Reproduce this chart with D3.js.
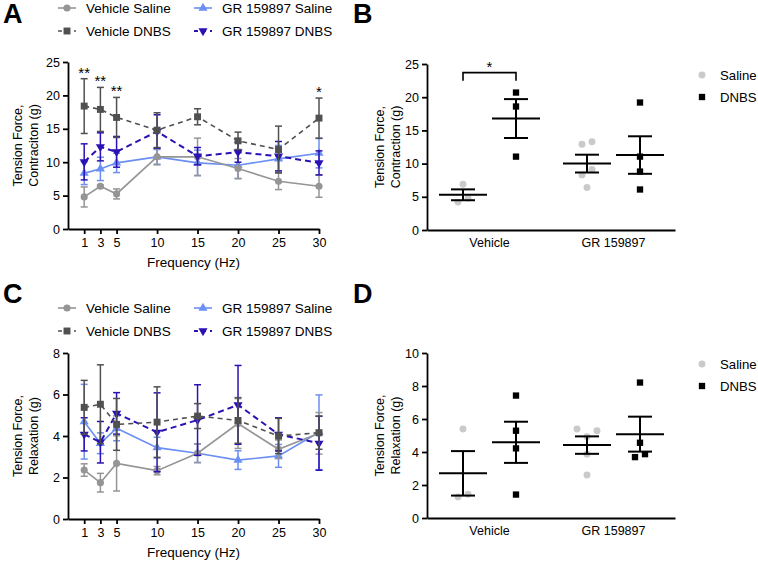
<!DOCTYPE html>
<html>
<head>
<meta charset="utf-8">
<script src="https://cdn.jsdelivr.net/npm/d3@7"></script>
<style>
    body { margin: 0; background: #fff; }
    svg { font-family: Arial, "Liberation Sans", sans-serif; }
    .axis path, .axis line { stroke: #000; stroke-width: 1.8px; }
    .axis text { font-size: 12.5px; fill: #000; }
</style>
</head>
<body>
<svg id="chart" width="758" height="561"></svg>
<script>
// stimulation frequencies (Hz)
var freqs = [1, 3, 5, 10, 15, 20, 25, 30];
var seriesNames = ["Vehicle Saline", "Vehicle DNBS", "GR 159897 Saline", "GR 159897 DNBS"];

// panel A - contraction, mean and SEM per frequency
var contrVehSal = [4.8, 6.4, 5.25, 10.8, 10.8, 9.05, 7.15, 6.4];
var contrVehSalErr = [1.5, 0.2, 0.75, 1.2, 2.8, 1.5, 1.25, 1.65];
var contrVehDnbs = [18.4, 17.9, 16.7, 14.8, 16.8, 13.2, 11.9, 16.6];
var contrVehDnbsErr = [4.1, 3.3, 3.0, 2.6, 1.2, 1.3, 3.5, 3.0];
var contrGrSal = [8.35, 9.0, 9.9, 10.8, 9.9, 9.55, 10.5, 11.35];
var contrGrSalErr = [1.7, 1.75, 1.45, 1.1, 1.9, 2.0, 2.0, 2.2];
var contrGrDnbs = [10.05, 12.3, 11.55, 14.6, 10.9, 11.5, 10.9, 9.9];
var contrGrDnbsErr = [2.7, 2.1, 2.3, 2.5, 1.3, 1.5, 2.2, 1.8];
var contrStars = [{f: 1, t: "**"}, {f: 3, t: "**"}, {f: 5, t: "**"}, {f: 30, t: "*"}];
var contrTicks = [0, 5, 10, 15, 20, 25];

// panel C - relaxation, mean and SEM per frequency
var relaxVehSal = [2.36, 1.75, 2.68, 2.33, 3.17, 4.6, 3.36, 4.13];
var relaxVehSalErr = [0.3, 0.45, 1.33, 0.2, 0.45, 1.2, 0.45, 1.0];
var relaxVehDnbs = [5.38, 5.53, 4.56, 4.67, 4.96, 4.75, 4.0, 4.16];
var relaxVehDnbsErr = [1.3, 1.9, 1.25, 1.7, 0.6, 1.1, 0.85, 0.8];
var relaxGrSal = [4.69, 3.65, 4.37, 3.44, 3.17, 2.84, 3.04, 4.18];
var relaxGrSalErr = [1.8, 0.5, 0.6, 0.5, 0.45, 0.45, 0.55, 1.8];
var relaxGrDnbs = [4.08, 3.7, 5.09, 4.18, 4.77, 5.5, 4.08, 3.65];
var relaxGrDnbsErr = [0.8, 1.0, 1.0, 1.9, 1.7, 1.9, 0.8, 1.3];
var relaxTicks = [0, 2, 4, 6, 8];

// panels B and D - individual animals at 10 Hz
var groupNames = ["Vehicle", "GR 159897"];
var treatNames = ["Saline", "DNBS"];
var dotContrVehSal = [6.9, 4.2, 4.8];
var dotContrVehDnbs = [20.7, 18.6, 11.05];
var dotContrGrSal = [12.9, 13.3, 9.1, 8.3, 6.4];
var dotContrGrDnbs = [19.2, 11.05, 8.8, 6.1];
var dotContrTicks = [0, 5, 10, 15, 20, 25];
var dotRelaxVehSal = [5.4, 1.28, 1.44];
var dotRelaxVehDnbs = [7.42, 5.29, 4.22, 1.42];
var dotRelaxGrSal = [5.4, 5.29, 4.93, 3.87, 2.6];
var dotRelaxGrDnbs = [8.21, 4.56, 3.69, 3.87];
var dotRelaxTicks = [0, 2, 4, 6, 8, 10];

var svg = d3.select("#chart");

// look of the four line series (same order as seriesNames)
var styles = [
    {color: "#959595", dash: null, symbol: d3.symbolCircle, rot: 0, size: 40, width: 1.6},
    {color: "#505050", dash: "5,4", symbol: d3.symbolSquare, rot: 0, size: 48, width: 1.6},
    {color: "#6b8ff2", dash: null, symbol: d3.symbolTriangle, rot: 0, size: 36, width: 1.6},
    {color: "#2a12b4", dash: "6,4", symbol: d3.symbolTriangle, rot: 180, size: 36, width: 2}
];
var drawOrder = [2, 0, 3, 1];

function drawLineChart(opts) {
    var g = svg.append("g");
    var x = d3.scaleLinear().domain([-1, 30]).range([opts.left, opts.right]);
    var y = d3.scaleLinear().domain([0, opts.yMax]).range([opts.bottom, opts.top]);

    g.append("g")
        .attr("class", "axis")
        .attr("transform", "translate(0," + opts.bottom + ")")
        .call(d3.axisBottom(x).tickValues(freqs).tickSize(5).tickSizeOuter(0).tickPadding(4));
    g.append("g")
        .attr("class", "axis")
        .attr("transform", "translate(" + opts.left + ",0)")
        .call(d3.axisLeft(y).tickValues(opts.yTicks).tickSize(5).tickSizeOuter(0).tickPadding(3));

    g.append("text")
        .attr("x", (opts.left + opts.right) / 2)
        .attr("y", opts.bottom + 38)
        .attr("text-anchor", "middle")
        .style("font-size", "13.5px")
        .text("Frequency (Hz)");

    var lbl = g.append("text")
        .attr("transform", "translate(22," + ((opts.top + opts.bottom) / 2) + ") rotate(-90)")
        .attr("text-anchor", "middle")
        .style("font-size", "12.5px");
    lbl.append("tspan").attr("x", 0).attr("y", 0).text("Tension Force,");
    lbl.append("tspan").attr("x", 0).attr("y", 16).text(opts.yLabel);

    drawOrder.forEach(function (k) {
        var st = styles[k], means = opts.means[k], errs = opts.errs[k];
        var pts = freqs.map(function (f, i) { return {f: f, m: means[i], e: errs[i]}; });
        var s = g.append("g");

        // error bars
        var eb = s.selectAll(".eb").data(pts).enter().append("g")
            .attr("stroke", st.color).attr("stroke-width", 1.5);
        eb.append("line")
            .attr("x1", function (d) { return x(d.f); })
            .attr("x2", function (d) { return x(d.f); })
            .attr("y1", function (d) { return y(d.m - d.e); })
            .attr("y2", function (d) { return y(d.m + d.e); });
        [-1, 1].forEach(function (sgn) {
            eb.append("line")
                .attr("x1", function (d) { return x(d.f) - 3.5; })
                .attr("x2", function (d) { return x(d.f) + 3.5; })
                .attr("y1", function (d) { return y(d.m + sgn * d.e); })
                .attr("y2", function (d) { return y(d.m + sgn * d.e); });
        });

        s.append("path")
            .datum(pts)
            .attr("fill", "none")
            .attr("stroke", st.color)
            .attr("stroke-width", st.width)
            .attr("stroke-dasharray", st.dash)
            .attr("d", d3.line().x(function (d) { return x(d.f); }).y(function (d) { return y(d.m); }));

        s.selectAll(".mk").data(pts).enter().append("path")
            .attr("fill", st.color)
            .attr("transform", function (d) {
                return "translate(" + x(d.f) + "," + y(d.m) + ") rotate(" + st.rot + ")";
            })
            .attr("d", d3.symbol().type(st.symbol).size(st.size));
    });

    // significance stars above Vehicle DNBS
    (opts.stars || []).forEach(function (st) {
        var i = freqs.indexOf(st.f);
        g.append("text")
            .attr("x", x(st.f))
            .attr("y", y(opts.means[1][i] + opts.errs[1][i]) - 1)
            .attr("text-anchor", "middle")
            .style("font-size", "15px")
            .text(st.t);
    });

    // legend (two columns)
    seriesNames.forEach(function (name, k) {
        var st = styles[k];
        var lx = k < 2 ? 58 : 194, ly = opts.legendY + (k % 2) * 23;
        var lg = g.append("g");
        lg.append("line")
            .attr("x1", lx).attr("x2", lx + 18).attr("y1", ly).attr("y2", ly)
            .attr("stroke", st.color).attr("stroke-width", st.width)
            .attr("stroke-dasharray", st.dash ? "4,4" : null);
        lg.append("path")
            .attr("fill", st.color)
            .attr("transform", "translate(" + (lx + 9) + "," + ly + ") rotate(" + st.rot + ")")
            .attr("d", d3.symbol().type(st.symbol).size(st.size));
        lg.append("text")
            .attr("x", lx + 28).attr("y", ly).attr("dy", "0.35em")
            .style("font-size", "13.5px")
            .text(name);
    });
}

// spread points that would overlap sideways, like a column scatter
function dodge(values, y) {
    var idx = d3.range(values.length).sort(function (a, b) { return values[a] - values[b]; });
    var offs = values.map(function () { return 0; });
    var cluster = [];
    function flush() {
        var n = cluster.length;
        cluster.forEach(function (k, j) {
            var r = n % 2 ? Math.ceil(j / 2) : Math.floor(j / 2) + 0.5;
            offs[k] = (j % 2 ? 1 : -1) * r * 10;
        });
        cluster = [];
    }
    idx.forEach(function (k) {
        if (cluster.length && Math.abs(y(values[k]) - y(values[cluster[cluster.length - 1]])) >= 8) flush();
        cluster.push(k);
    });
    flush();
    return offs;
}

function drawDotChart(opts) {
    var g = svg.append("g");
    var x0 = d3.scalePoint().domain(groupNames).range([opts.left, opts.right]).padding(0.5);
    var x1 = d3.scalePoint().domain(treatNames).range([-26, 27]);
    var y = d3.scaleLinear().domain([0, opts.yMax]).range([opts.bottom, opts.top]);

    g.append("g")
        .attr("class", "axis")
        .attr("transform", "translate(0," + opts.bottom + ")")
        .call(d3.axisBottom(x0).tickSize(0).tickSizeOuter(0).tickPadding(8));
    g.append("g")
        .attr("class", "axis")
        .attr("transform", "translate(" + opts.left + ",0)")
        .call(d3.axisLeft(y).tickValues(opts.yTicks).tickSize(5).tickSizeOuter(0).tickPadding(3));

    var lbl = g.append("text")
        .attr("transform", "translate(384," + ((opts.top + opts.bottom) / 2) + ") rotate(-90)")
        .attr("text-anchor", "middle")
        .style("font-size", "12.5px");
    lbl.append("tspan").attr("x", 0).attr("y", 0).text("Tension Force,");
    lbl.append("tspan").attr("x", 0).attr("y", 16).text(opts.yLabel);

    opts.sets.forEach(function (s) {
        var cx = x0(s.group) + x1(s.treat);
        var offs = dodge(s.values, y);
        var saline = s.treat === "Saline";
        g.selectAll(null).data(s.values).enter().append("path")
            .attr("fill", saline ? "#cacaca" : "#000")
            .attr("transform", function (d, i) { return "translate(" + (cx + offs[i]) + "," + y(d) + ")"; })
            .attr("d", d3.symbol().type(saline ? d3.symbolCircle : d3.symbolSquare).size(saline ? 38 : 40));

        var m = d3.mean(s.values);
        var se = d3.deviation(s.values) / Math.sqrt(s.values.length);
        var bar = g.append("g").attr("stroke", "#000").attr("stroke-width", 2);
        bar.append("line").attr("x1", cx - 24).attr("x2", cx + 24).attr("y1", y(m)).attr("y2", y(m));
        bar.append("line").attr("x1", cx).attr("x2", cx).attr("y1", y(m - se)).attr("y2", y(m + se));
        [-1, 1].forEach(function (sgn) {
            bar.append("line").attr("x1", cx - 12).attr("x2", cx + 12)
                .attr("y1", y(m + sgn * se)).attr("y2", y(m + sgn * se));
        });
    });

    if (opts.bracket) {
        var b = opts.bracket;
        var xa = x0(b.group) + x1(treatNames[0]), xb = x0(b.group) + x1(treatNames[1]);
        var yb = y(b.level);
        g.append("path")
            .attr("fill", "none").attr("stroke", "#000").attr("stroke-width", 1.6)
            .attr("d", "M" + xa + "," + (yb + 8) + "V" + yb + "H" + xb + "V" + (yb + 8));
        g.append("text")
            .attr("x", (xa + xb) / 2).attr("y", yb - 1)
            .attr("text-anchor", "middle")
            .style("font-size", "15px")
            .text(b.label);
    }

    // legend
    treatNames.forEach(function (t, k) {
        var ly = opts.legendY + k * 22;
        g.append("path")
            .attr("fill", k === 0 ? "#cacaca" : "#000")
            .attr("transform", "translate(702," + ly + ")")
            .attr("d", d3.symbol().type(k === 0 ? d3.symbolCircle : d3.symbolSquare).size(k === 0 ? 38 : 40));
        g.append("text")
            .attr("x", 720).attr("y", ly).attr("dy", "0.35em")
            .style("font-size", "13.2px")
            .text(t);
    });
}

drawLineChart({
    left: 68, right: 319, top: 62, bottom: 229, yMax: 25, yTicks: contrTicks,
    yLabel: "Contraciton (g)", legendY: 8,
    means: [contrVehSal, contrVehDnbs, contrGrSal, contrGrDnbs],
    errs: [contrVehSalErr, contrVehDnbsErr, contrGrSalErr, contrGrDnbsErr],
    stars: contrStars
});

drawLineChart({
    left: 68, right: 319, top: 353, bottom: 519, yMax: 8, yTicks: relaxTicks,
    yLabel: "Relaxation (g)", legendY: 308,
    means: [relaxVehSal, relaxVehDnbs, relaxGrSal, relaxGrDnbs],
    errs: [relaxVehSalErr, relaxVehDnbsErr, relaxGrSalErr, relaxGrDnbsErr]
});

drawDotChart({
    left: 427, right: 675, top: 64, bottom: 230, yMax: 25, yTicks: dotContrTicks,
    yLabel: "Contraction (g)", legendY: 75,
    sets: [
        {group: "Vehicle", treat: "Saline", values: dotContrVehSal},
        {group: "Vehicle", treat: "DNBS", values: dotContrVehDnbs},
        {group: "GR 159897", treat: "Saline", values: dotContrGrSal},
        {group: "GR 159897", treat: "DNBS", values: dotContrGrDnbs}
    ],
    bracket: {group: "Vehicle", level: 23.7, label: "*"}
});

drawDotChart({
    left: 427, right: 675, top: 353, bottom: 518, yMax: 10, yTicks: dotRelaxTicks,
    yLabel: "Relaxation (g)", legendY: 364,
    sets: [
        {group: "Vehicle", treat: "Saline", values: dotRelaxVehSal},
        {group: "Vehicle", treat: "DNBS", values: dotRelaxVehDnbs},
        {group: "GR 159897", treat: "Saline", values: dotRelaxGrSal},
        {group: "GR 159897", treat: "DNBS", values: dotRelaxGrDnbs}
    ]
});

// panel letters
[["A", 3, 23], ["B", 353, 23], ["C", 3, 303], ["D", 353, 303]].forEach(function (p) {
    svg.append("text")
        .attr("x", p[1]).attr("y", p[2])
        .style("font-size", "27px").style("font-weight", "bold")
        .text(p[0]);
});
</script>
</body>
</html>
